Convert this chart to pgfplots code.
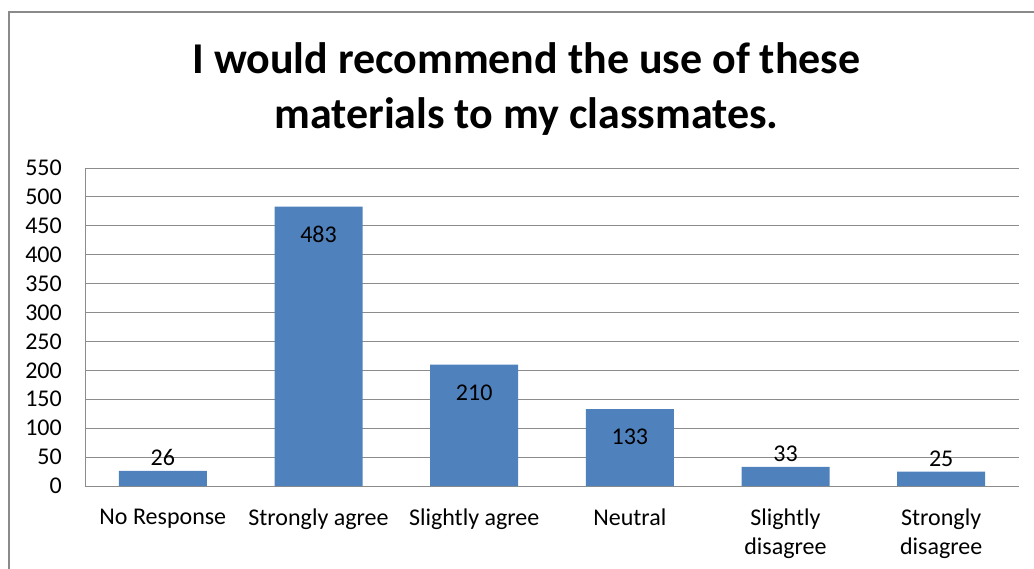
\documentclass[border=0pt]{standalone}
\usepackage{fontspec}
\setmainfont{Carlito}
\usepackage{pgfplots}
\usepackage{pgfplotstable}
\pgfplotsset{compat=1.18}

\definecolor{barblue}{HTML}{4F81BD}
\definecolor{gridgray}{HTML}{8C8C8C}
\definecolor{framegray}{HTML}{8A8A8A}

% x = category index, y = responses, shift = label offset (inside/above bar)
\pgfplotstableread{
x y shift
0 26 13
1 483 -28
2 210 -28
3 133 -28
4 33 13
5 25 13
}\responses

\begin{document}
\begin{tikzpicture}[x=1pt,y=1pt]
\clip (0,0) rectangle (1034,-569);
\draw[framegray, line width=2pt] (1100,-12) -- (9,-12) -- (9,-620);

\node[font=\fontsize{44}{55}\selectfont\bfseries, anchor=base, inner sep=0pt] at (526.5,-74) {I would recommend the use of these};
\node[font=\fontsize{44}{55}\selectfont\bfseries, anchor=base, inner sep=0pt] at (526.5,-129) {materials to my classmates.};

\begin{axis}[
    at={(85pt,-486pt)}, anchor=south west,
    scale only axis, width=934pt, height=318pt,
    ybar, bar width=88pt,
    xmin=-0.5, xmax=5.5,
    ymin=0, ymax=550,
    ytick={0,50,...,550},
    xtick=data,
    xticklabels={No Response, Strongly agree, Slightly agree, Neutral, {Slightly\\disagree}, {Strongly\\disagree}},
    axis lines*=left,
    axis line style={gridgray, line width=1pt, -},
    major tick length=0pt,
    ymajorgrids,
    grid style={gridgray, line width=1pt},
    /pgf/number format/assume math mode=true,
    xticklabel style={align=center, anchor=north, inner sep=0pt, yshift=-23pt,
        font=\fontsize{24}{29}\selectfont, text=black},
    yticklabel style={anchor=east, inner sep=0pt, xshift=-23pt,
        font=\fontsize{24}{29}\selectfont, text=black},
]
\addplot[fill=barblue, draw=none,
    nodes near coords,
    visualization depends on={\thisrow{shift} \as \lblshift},
    every node near coord/.append style={anchor=center, yshift=\lblshift,
        font=\fontsize{24}{29}\selectfont, text=black},
] table[x=x, y=y] {\responses};
\end{axis}
\end{tikzpicture}
\end{document}
